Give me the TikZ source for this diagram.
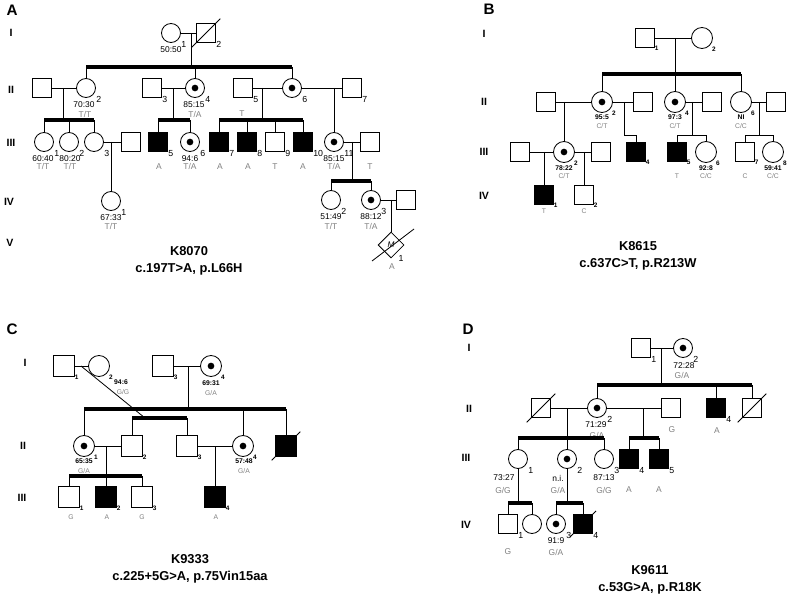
\documentclass[tikz,border=0pt]{standalone}
\usepackage{fontspec}
\setmainfont{Liberation Sans}
\usetikzlibrary{shapes.geometric}
\tikzset{
  ind/.style={draw, line width=0.7pt, inner sep=0pt},
  male/.style={ind, rectangle, minimum size=0.55cm},
  female/.style={ind, circle, minimum size=0.57cm},
  aff/.style={fill=black},
  carrier/.style={path picture={\fill (path picture bounding box.center) circle (0.1cm);}},
  ml/.style={label={[label distance=0.5pt]-40:#1}},
  fl/.style={label={[label distance=2.8pt]-40:#1}},
  line/.style={line width=0.7pt},
  sib/.style={line width=2.6pt},
  num/.style={font=\fontsize{7.5}{8}\selectfont, inner sep=0pt},
  numb/.style={font=\bfseries\fontsize{5.5}{6}\selectfont, inner sep=0pt},
  ratio/.style={font=\fontsize{7.2}{8}\selectfont, inner sep=0pt},
  ratiob/.style={font=\bfseries\fontsize{5.8}{6}\selectfont, inner sep=0pt},
  geno/.style={text=gray, font=\fontsize{7.2}{8}\selectfont, inner sep=0pt},
  genob/.style={text=gray, font=\fontsize{5.8}{6}\selectfont, inner sep=0pt},
  gen/.style={font=\bfseries\fontsize{9}{10}\selectfont, inner sep=0pt},
  panel/.style={font=\bfseries\fontsize{13}{14}\selectfont, inner sep=0pt},
  title/.style={font=\bfseries\fontsize{11}{15}\selectfont, align=center, inner sep=0pt},
}
\begin{document}
\begin{tikzpicture}[x=0.03cm, y=-0.03cm, every label/.style={num}]
\useasboundingbox (0,0) rectangle (790,597);

% ---------------- A : K8070
\node[panel] (aP) at (12,10) {A};
\node[gen] (aGI) at (11,33) {I};
\node[gen] (aGII) at (11,90) {II};
\node[gen] (aGIII) at (11,143) {III};
\node[gen] (aGIV) at (9,202) {IV};
\node[gen] (aGV) at (10,243) {V};

\node[female, fl=1] (aI1) at (171,33) {};
\node[male, ml=2] (aI2) at (206,33) {};
\node[ratio] (raI1) at (171,50) {50:50};
\draw[line] ([shift={(-4pt,-4pt)}]aI2.south west) -- ([shift={(4pt,4pt)}]aI2.north east);

\node[male] (aIIs1) at (42,88) {};
\node[female, fl=2] (aII2) at (86,88) {};
\node[male, ml=3] (aII3) at (152,88) {};
\node[female, carrier, fl=4] (aII4) at (195,88) {};
\node[male, ml=5] (aII5) at (243,88) {};
\node[female, carrier, fl=6] (aII6) at (292,88) {};
\node[male, ml=7] (aII7) at (352,88) {};
\node[ratio] (raII2) at (84,105) {70:30};
\node[geno] (gaII2) at (85,114) {T/T};
\node[ratio] (raII4) at (194,105) {85:15};
\node[geno] (gaII4) at (195,114) {T/A};
\node[geno] (gaS4) at (242,114) {T};

\node[female, fl=1] (aIII1) at (44,142) {};
\node[female, fl=2] (aIII2) at (69,142) {};
\node[female, fl=3] (aIII3) at (94,142) {};
\node[male] (aIIIs1) at (131,142) {};
\node[male, aff, ml=5] (aIII5) at (158,142) {};
\node[female, carrier, fl=6] (aIII6) at (190,142) {};
\node[male, aff, ml=7] (aIII7) at (219,142) {};
\node[male, aff, ml=8] (aIII8) at (247,142) {};
\node[male, ml=9] (aIII9) at (275,142) {};
\node[male, aff, ml=10] (aIII10) at (303,142) {};
\node[female, carrier, fl=11] (aIII11) at (334,142) {};
\node[male] (aIIIs2) at (370,142) {};
\node[ratio] (raIII1) at (43,159) {60:40};
\node[geno] (gaIII1) at (43,166) {T/T};
\node[ratio] (raIII2) at (70,159) {80:20};
\node[geno] (gaIII2) at (70,166) {T/T};
\node[geno] (gaIII5) at (159,167) {A};
\node[ratio] (raIII6) at (190,159) {94:6};
\node[geno] (gaIII6) at (190,166) {T/A};
\node[geno] (gaIII7) at (220,167) {A};
\node[geno] (gaIII8) at (248,167) {A};
\node[geno] (gaIII9) at (275,167) {T};
\node[geno] (gaIII10) at (303,167) {A};
\node[ratio] (raIII11) at (334,159) {85:15};
\node[geno] (gaIII11) at (334,166) {T/A};
\node[geno] (gaIIIs2) at (370,167) {T};

\node[female, fl=1] (aIV1) at (111,201) {};
\node[female, fl=2] (aIV2) at (331,200) {};
\node[female, carrier, fl=3] (aIV3) at (371,200) {};
\node[male] (aIVs1) at (406,200) {};
\node[ratio] (raIV1) at (111,218) {67:33};
\node[geno] (gaIV1) at (111,226) {T/T};
\node[ratio] (raIV2) at (331,217) {51:49};
\node[geno] (gaIV2) at (331,226) {T/T};
\node[ratio] (raIV3) at (371,217) {88:12};
\node[geno] (gaIV3) at (371,226) {T/A};

\node[ind, diamond, minimum width=0.78cm, minimum height=0.78cm, font=\itshape\fontsize{7}{8}\selectfont] (aV1) at (391,245) {M};
\node[num] (naV1) at (401,258) {1};
\node[geno] (gaV1) at (392,267) {A};
\draw[line] (372,261) -- (414,229);

\coordinate (aK1) at (191,33);
\coordinate (aS1l) at (86,67);
\coordinate (aS1r) at (292,67);
\coordinate (aK2) at (63,88);
\coordinate (aS2l) at (44,120);
\coordinate (aS2r) at (94,120);
\coordinate (aK3) at (173,88);
\coordinate (aS3l) at (158,120);
\coordinate (aS3r) at (190,120);
\coordinate (aK4) at (262,88);
\coordinate (aS4l) at (219,120);
\coordinate (aS4r) at (303,120);
\coordinate (aK5) at (334,88);
\coordinate (aK6) at (111,142);
\coordinate (aK7) at (352,142);
\coordinate (aS7l) at (331,181);
\coordinate (aS7r) at (371,181);
\coordinate (aK8) at (391,200);

\draw[line] (aI1) -- (aI2);
\draw[line] (aK1) -- (aK1 |- aS1l);
\draw[sib] (aS1l) -- (aS1r);
\draw[line] (aII2) -- (aII2 |- aS1l);
\draw[line] (aII4) -- (aII4 |- aS1l);
\draw[line] (aII6) -- (aII6 |- aS1l);
\draw[line] (aIIs1) -- (aII2);
\draw[line] (aII3) -- (aII4);
\draw[line] (aII5) -- (aII6);
\draw[line] (aII6) -- (aII7);
\draw[line] (aK2) -- (aK2 |- aS2l);
\draw[sib] (aS2l) -- (aS2r);
\draw[line] (aIII1) -- (aIII1 |- aS2l);
\draw[line] (aIII2) -- (aIII2 |- aS2l);
\draw[line] (aIII3) -- (aIII3 |- aS2l);
\draw[line] (aK3) -- (aK3 |- aS3l);
\draw[sib] (aS3l) -- (aS3r);
\draw[line] (aIII5) -- (aIII5 |- aS3l);
\draw[line] (aIII6) -- (aIII6 |- aS3l);
\draw[line] (aK4) -- (aK4 |- aS4l);
\draw[sib] (aS4l) -- (aS4r);
\draw[line] (aIII7) -- (aIII7 |- aS4l);
\draw[line] (aIII8) -- (aIII8 |- aS4l);
\draw[line] (aIII9) -- (aIII9 |- aS4l);
\draw[line] (aIII10) -- (aIII10 |- aS4l);
\draw[line] (aK5) -- (aIII11);
\draw[line] (aIII3) -- (aIIIs1);
\draw[line] (aK6) -- (aIV1);
\draw[line] (aIII11) -- (aIIIs2);
\draw[line] (aK7) -- (aK7 |- aS7l);
\draw[sib] (aS7l) -- (aS7r);
\draw[line] (aIV2) -- (aIV2 |- aS7l);
\draw[line] (aIV3) -- (aIV3 |- aS7l);
\draw[line] (aIV3) -- (aIVs1);
\draw[line] (aK8) -- (aV1);

\node[title] (aT) at (189,261) {K8070\\c.197T>A, p.L66H};

% ---------------- B : K8615
\begin{scope}[female/.append style={minimum size=0.63cm}, fl/.style={label={[label distance=1.8pt]-40:#1}}, ml/.style={label={[label distance=0pt]-40:#1}}, every label/.style={numb}]
\node[panel] (bP) at (489,9) {B};
\node[gen] (bGI) at (484,34) {I};
\node[gen] (bGII) at (484,102) {II};
\node[gen] (bGIII) at (484,152) {III};
\node[gen] (bGIV) at (484,196) {IV};

\node[male, ml=1] (bI1) at (645,38) {};
\node[female, fl=2] (bI2) at (702,38) {};

\node[male] (bIIs1) at (546,102) {};
\node[female, carrier, fl=2] (bII2) at (602,102) {};
\node[male] (bIIs2) at (643,102) {};
\node[female, carrier, fl=4] (bII4) at (675,102) {};
\node[male] (bIIs3) at (712,102) {};
\node[female, fl=6] (bII6) at (741,102) {};
\node[male] (bIIs4) at (776,102) {};
\node[ratiob] (rbII2) at (602,117) {95:5};
\node[genob] (gbII2) at (602,126) {C/T};
\node[ratiob] (rbII4) at (675,117) {97:3};
\node[genob] (gbII4) at (675,126) {C/T};
\node[ratiob] (rbII6) at (741,117) {NI};
\node[genob] (gbII6) at (741,126) {C/C};

\node[male] (bIIIs1) at (520,152) {};
\node[female, carrier, fl=2] (bIII2) at (564,152) {};
\node[male] (bIIIs2) at (601,152) {};
\node[male, aff, ml=4] (bIII4) at (636,152) {};
\node[male, aff, ml=5] (bIII5) at (677,152) {};
\node[female, fl=6] (bIII6) at (706,152) {};
\node[male, ml=7] (bIII7) at (745,152) {};
\node[female, fl=8] (bIII8) at (773,152) {};
\node[ratiob] (rbIII2) at (564,168) {78:22};
\node[genob] (gbIII2) at (564,176) {C/T};
\node[genob] (gbIII5) at (677,176) {T};
\node[ratiob] (rbIII6) at (706,168) {92:8};
\node[genob] (gbIII6) at (706,176) {C/C};
\node[genob] (gbIII7) at (745,176) {C};
\node[ratiob] (rbIII8) at (773,168) {59:41};
\node[genob] (gbIII8) at (773,176) {C/C};

\node[male, aff, ml=1] (bIV1) at (544,195) {};
\node[male, ml=2] (bIV2) at (584,195) {};
\node[genob] (gbIV1) at (544,211) {T};
\node[genob] (gbIV2) at (584,211) {C};

\coordinate (bK1) at (675,38);
\coordinate (bS1l) at (602,74);
\coordinate (bS1r) at (741,74);
\coordinate (bK2) at (564,102);
\coordinate (bK3) at (624,102);
\coordinate (bK4) at (692,102);
\coordinate (bS4l) at (677,135);
\coordinate (bS4r) at (706,135);
\coordinate (bK5) at (759,102);
\coordinate (bS5l) at (745,135);
\coordinate (bS5r) at (773,135);
\coordinate (bK6) at (544,152);
\coordinate (bK7) at (584,152);

\draw[line] (bI1) -- (bI2);
\draw[line] (bK1) -- (bK1 |- bS1l);
\draw[sib] (bS1l) -- (bS1r);
\draw[line] (bII2) -- (bII2 |- bS1l);
\draw[line] (bII4) -- (bII4 |- bS1l);
\draw[line] (bII6) -- (bII6 |- bS1l);
\draw[line] (bIIs1) -- (bII2);
\draw[line] (bII2) -- (bIIs2);
\draw[line] (bII4) -- (bIIs3);
\draw[line] (bII6) -- (bIIs4);
\draw[line] (bK2) -- (bIII2);
\draw[line] (bK3) -- ++(0,33) -| (bIII4);
\draw[line] (bK4) -- (bK4 |- bS4l);
\draw[line] (bS4l) -- (bS4r);
\draw[line] (bIII5) -- (bIII5 |- bS4l);
\draw[line] (bIII6) -- (bIII6 |- bS4l);
\draw[line] (bK5) -- (bK5 |- bS5l);
\draw[line] (bS5l) -- (bS5r);
\draw[line] (bIII7) -- (bIII7 |- bS5l);
\draw[line] (bIII8) -- (bIII8 |- bS5l);
\draw[line] (bIIIs1) -- (bIII2);
\draw[line] (bIII2) -- (bIIIs2);
\draw[line] (bK6) -- (bIV1);
\draw[line] (bK7) -- (bIV2);

\node[title] (bT) at (638,256) {K8615\\c.637C>T, p.R213W};
\end{scope}

% ---------------- C : K9333
\begin{scope}[female/.append style={minimum size=0.63cm}, male/.append style={minimum size=0.62cm}, fl/.style={label={[label distance=1.8pt]-40:#1}}, ml/.style={label={[label distance=0pt]-40:#1}}, every label/.style={numb}]
\node[panel] (cP) at (12,329) {C};
\node[gen] (cGI) at (25,363) {I};
\node[gen] (cGII) at (23,446) {II};
\node[gen] (cGIII) at (22,498) {III};

\node[male, ml=1] (cI1) at (64,366) {};
\node[female, fl=2] (cI2) at (99,366) {};
\node[male, ml=3] (cI3) at (163,366) {};
\node[female, carrier, fl=4] (cI4) at (211,366) {};
\node[ratiob] (rcI2) at (121,382) {94:6};
\node[genob] (gcI2) at (123,392) {G/G};
\node[ratiob] (rcI4) at (211,383) {69:31};
\node[genob] (gcI4) at (211,393) {G/A};

\node[female, carrier, fl=1] (cII1) at (84,446) {};
\node[male, ml=2] (cII2) at (132,446) {};
\node[male, ml=3] (cII3) at (187,446) {};
\node[female, carrier, fl=4] (cII4) at (243,446) {};
\node[male, aff] (cII5) at (286,446) {};
\draw[line] ([shift={(-3pt,-3pt)}]cII5.south west) -- ([shift={(3pt,3pt)}]cII5.north east);
\node[ratiob] (rcII1) at (84,461) {65:35};
\node[genob] (gcII1) at (84,471) {G/A};
\node[ratiob] (rcII4) at (244,461) {57:48};
\node[genob] (gcII4) at (244,471) {G/A};

\node[male, ml=1] (cIII1) at (69,497) {};
\node[male, aff, ml=2] (cIII2) at (106,497) {};
\node[male, ml=3] (cIII3) at (142,497) {};
\node[male, aff, ml=4] (cIII4) at (215,497) {};
\node[genob] (gcIII1) at (71,517) {G};
\node[genob] (gcIII2) at (107,517) {A};
\node[genob] (gcIII3) at (142,517) {G};
\node[genob] (gcIII4) at (216,517) {A};

\coordinate (cK1) at (81,366);
\coordinate (cS2m) at (145,418);
\coordinate (cS2l) at (132,418);
\coordinate (cS2r) at (187,418);
\coordinate (cK2) at (188,366);
\coordinate (cS1l) at (84,409);
\coordinate (cS1r) at (286,409);
\coordinate (cK3) at (106,446);
\coordinate (cS3l) at (69,476);
\coordinate (cS3r) at (142,476);
\coordinate (cK4) at (215,446);

\draw[line] (cI1) -- (cI2);
\draw[line] (cK1) -- (cS2m);
\draw[sib] (cS2l) -- (cS2r);
\draw[line] (cII2) -- (cII2 |- cS2l);
\draw[line] (cII3) -- (cII3 |- cS2l);
\draw[line] (cI3) -- (cI4);
\draw[line] (cK2) -- (cK2 |- cS1l);
\draw[sib] (cS1l) -- (cS1r);
\draw[line] (cII1) -- (cII1 |- cS1l);
\draw[line] (cII4) -- (cII4 |- cS1l);
\draw[line] (cII5) -- (cII5 |- cS1l);
\draw[line] (cII1) -- (cII2);
\draw[line] (cK3) -- (cK3 |- cS3l);
\draw[sib] (cS3l) -- (cS3r);
\draw[line] (cIII1) -- (cIII1 |- cS3l);
\draw[line] (cIII2) -- (cIII2 |- cS3l);
\draw[line] (cIII3) -- (cIII3 |- cS3l);
\draw[line] (cII3) -- (cII4);
\draw[line] (cK4) -- (cIII4);

\node[title] (cT) at (190,569) {K9333\\c.225+5G>A, p.75Vin15aa};
\end{scope}

% ---------------- D : K9611
\node[panel] (dP) at (468,329) {D};
\node[gen] (dGI) at (469,348) {I};
\node[gen] (dGII) at (469,409) {II};
\node[gen] (dGIII) at (466,458) {III};
\node[gen] (dGIV) at (466,525) {IV};

\node[male, ml=1] (dI1) at (641,348) {};
\node[female, carrier, fl=2] (dI2) at (683,348) {};
\node[ratio] (rdI2) at (684,366) {72:28};
\node[geno] (gdI2) at (682,375) {G/A};

\node[male] (dIIs1) at (541,408) {};
\draw[line] ([shift={(-4pt,-4pt)}]dIIs1.south west) -- ([shift={(4pt,4pt)}]dIIs1.north east);
\node[female, carrier, fl=2] (dII2) at (597,408) {};
\node[male] (dIIs2) at (671,408) {};
\node[male, aff, ml=4] (dII4) at (716,408) {};
\node[male] (dII5) at (752,408) {};
\draw[line] ([shift={(-4pt,-4pt)}]dII5.south west) -- ([shift={(4pt,4pt)}]dII5.north east);
\node[ratio] (rdII2) at (596,425) {71:29};
\node[geno] (gdII2) at (597,435) {G/A};
\node[geno] (gdIIs2) at (672,430) {G};
\node[geno] (gdII4) at (717,431) {A};

\node[female, fl=1] (dIII1) at (518,459) {};
\node[female, carrier, fl=2] (dIII2) at (567,459) {};
\node[female, fl=3] (dIII3) at (604,459) {};
\node[male, aff, ml=4] (dIII4) at (629,459) {};
\node[male, aff, ml=5] (dIII5) at (659,459) {};
\node[ratio] (rdIII1) at (504,478) {73:27};
\node[geno] (gdIII1) at (503,490) {G/G};
\node[ratio] (rdIII2) at (558,478) {n.i.};
\node[geno] (gdIII2) at (558,490) {G/A};
\node[ratio] (rdIII3) at (604,478) {87:13};
\node[geno] (gdIII3) at (604,490) {G/G};
\node[geno] (gdIII4) at (629,490) {A};
\node[geno] (gdIII5) at (659,490) {A};

\node[male, ml=1] (dIV1) at (508,524) {};
\node[female] (dIV2) at (532,524) {};
\node[female, carrier, fl=3] (dIV3) at (556,524) {};
\node[male, aff, ml=4] (dIV4) at (583,524) {};
\draw[line] ([shift={(-3pt,-3pt)}]dIV4.south west) -- ([shift={(3pt,3pt)}]dIV4.north east);
\node[geno] (gdIV1) at (508,552) {G};
\node[ratio] (rdIV3) at (556,541) {91:9};
\node[geno] (gdIV3) at (556,552) {G/A};

\coordinate (dK1) at (661,348);
\coordinate (dS1l) at (597,385);
\coordinate (dS1r) at (752,385);
\coordinate (dK2) at (567,408);
\coordinate (dS2l) at (518,438);
\coordinate (dS2r) at (604,438);
\coordinate (dK3) at (643,408);
\coordinate (dS3l) at (629,438);
\coordinate (dS3r) at (659,438);
\coordinate (dS4l) at (508,503);
\coordinate (dS4r) at (532,503);
\coordinate (dS5l) at (556,503);
\coordinate (dS5r) at (583,503);

\draw[line] (dI1) -- (dI2);
\draw[line] (dK1) -- (dK1 |- dS1l);
\draw[sib] (dS1l) -- (dS1r);
\draw[line] (dII2) -- (dII2 |- dS1l);
\draw[line] (dII4) -- (dII4 |- dS1l);
\draw[line] (dII5) -- (dII5 |- dS1l);
\draw[line] (dIIs1) -- (dII2);
\draw[line] (dII2) -- (dIIs2);
\draw[line] (dK2) -- (dK2 |- dS2l);
\draw[sib] (dS2l) -- (dS2r);
\draw[line] (dIII1) -- (dIII1 |- dS2l);
\draw[line] (dIII2) -- (dIII2 |- dS2l);
\draw[line] (dIII3) -- (dIII3 |- dS2l);
\draw[line] (dK3) -- (dK3 |- dS3l);
\draw[sib] (dS3l) -- (dS3r);
\draw[line] (dIII4) -- (dIII4 |- dS3l);
\draw[line] (dIII5) -- (dIII5 |- dS3l);
\draw[line] (dIII1) -- (dIII1 |- dS4l);
\draw[sib] (dS4l) -- (dS4r);
\draw[line] (dIV1) -- (dIV1 |- dS4l);
\draw[line] (dIV2) -- (dIV2 |- dS4l);
\draw[line] (dIII2) -- (dIII2 |- dS5l);
\draw[sib] (dS5l) -- (dS5r);
\draw[line] (dIV3) -- (dIV3 |- dS5l);
\draw[line] (dIV4) -- (dIV4 |- dS5l);

\node[title] (dT) at (650,580) {K9611\\c.53G>A, p.R18K};
\end{tikzpicture}
\end{document}
